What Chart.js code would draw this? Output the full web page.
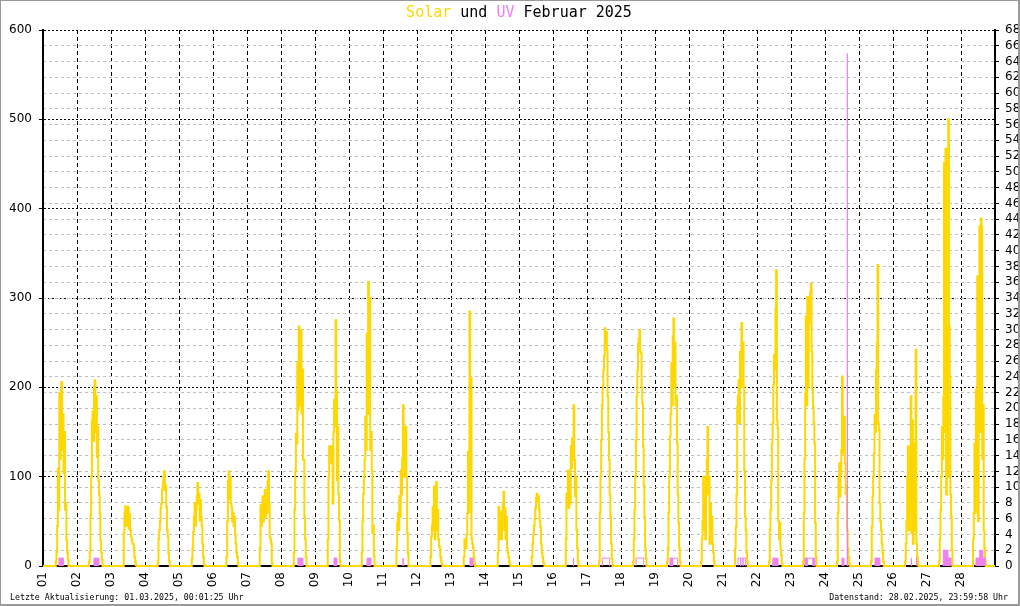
<!DOCTYPE html>
<html>
<head>
<meta charset="utf-8">
<title>Solar und UV Februar 2025</title>
<script src="https://cdn.jsdelivr.net/npm/chart.js@4.4.1/dist/chart.umd.min.js"></script>
<style>
  html, body { margin: 0; padding: 0; background: #fff; }
  canvas { display: block; }
</style>
</head>
<body>
<canvas id="solarChart" width="1020" height="606"></canvas>
<script>
// x-axis labels, one per day
const dayLabels = ['01','02','03','04','05','06','07','08','09','10','11','12','13','14',
                   '15','16','17','18','19','20','21','22','23','24','25','26','27','28'];

// solar radiation (W/m²) per day, half-hourly from 08:00 to 18:00
const solarFirstHour = 8;
const solarStepHours = 0.5;
const solarByDay = [
  [0,0,5,16,45,109,63,193,120,196,206,130,170,104,150,63,70,29,15,7,0],        // 01
  [0,5,16,57,100,163,173,140,200,208,150,190,122,156,96,80,59,29,15,7,0],      // 02
  [0,0,37,60,67,45,62,50,66,42,58,40,33,30,25,25,20,10,5,1,0],                 // 03
  [0,0,5,30,40,50,65,70,85,93,100,106,85,90,66,40,33,14,5,0,0],                // 04
  [0,0,8,20,38,55,70,45,63,78,93,70,81,51,74,55,45,25,10,2,0],                 // 05
  [0,0,0,10,50,95,106,75,100,70,66,50,60,45,55,35,25,15,10,3,0],               // 06
  [0,0,20,68,45,60,78,50,65,85,55,70,60,95,106,70,33,30,25,3,0],               // 07
  [0,0,15,63,107,148,137,227,175,268,180,253,264,171,220,119,119,55,30,10,0],  // 08
  [0,0,30,100,134,120,134,115,134,70,150,186,156,275,195,96,156,81,51,5,0],    // 09
  [0,0,15,50,81,100,119,167,130,260,170,318,200,300,130,150,107,37,45,12,0],   // 10
  [0,0,0,20,48,59,40,78,55,107,80,120,180,122,100,137,156,100,37,14,0],        // 11
  [0,0,0,10,33,45,66,40,89,30,81,94,40,63,30,22,20,10,5,2,0],                  // 12
  [0,0,10,30,25,20,35,59,128,60,285,100,210,30,25,20,10,3,0,0,0],              // 13
  [0,0,15,66,30,40,61,30,55,70,83,40,65,30,55,20,15,10,5,2,0],                 // 14
  [0,0,10,25,35,45,53,65,76,81,72,78,63,50,44,25,15,10,5,2,0],                 // 15
  [0,0,30,81,75,107,65,90,70,134,110,143,120,180,119,78,100,40,20,5,0],        // 16
  [0,5,60,100,141,180,201,219,235,266,250,262,242,190,150,119,80,55,25,8,0],   // 17
  [0,5,30,63,100,141,190,219,249,255,264,240,238,200,182,134,90,55,20,8,0],    // 18
  [0,5,20,60,100,145,170,227,180,257,277,200,250,180,190,137,80,48,20,5,0],    // 19
  [0,5,30,50,100,40,79,30,100,119,156,80,100,25,70,40,55,25,15,5,0],           // 20
  [0,20,44,80,178,190,208,160,240,200,272,230,250,201,107,55,40,15,5,0,0],     // 21
  [0,5,40,63,96,137,160,203,236,220,288,331,163,154,51,30,48,20,12,3,0],       // 22
  [0,5,59,120,193,279,180,301,200,272,300,307,316,240,197,178,160,137,48,10,0],// 23
  [0,5,60,100,115,78,104,130,212,126,156,167,115,81,90,40,20,10,3,0,0],        // 24
  [0,5,44,78,100,126,169,150,219,249,337,160,152,70,50,40,25,15,5,0,0],        // 25
  [0,5,25,51,100,134,40,130,60,190,37,163,25,137,40,122,242,25,10,2,0],        // 26
  [0,5,30,63,100,156,120,190,451,150,467,80,268,100,500,268,212,80,55,18,0],   // 27
  [0,30,59,137,60,197,90,324,50,250,380,150,389,380,120,180,40,20,5,0,0]       // 28
];

// UV index, as stretches of one value (day, from hour, to hour, value, drawn solid)
const uvDay   = [1, 2, 8, 8, 8, 9, 10, 11, 13, 16, 17, 18, 19, 19, 21, 21, 21, 22, 22,
                 23, 23, 23, 24, 24, 25, 26, 26, 27, 27, 27, 27, 28, 28, 28, 28];
const uvFrom  = [11.3, 12.0, 12.0, 13.6, 14.3, 13.4, 12.7, 14.1, 13.4, 14.35, 10.8, 10.6, 10.6, 12.5, 10.6, 12.5, 14.1, 11.2, 13.0,
                 9.9, 11.5, 15.5, 12.0, 15.7, 11.3, 12.9, 16.5, 11.5, 12.9, 13.3, 14.8, 10.6, 12.6, 13.2, 15.5];
const uvTo    = [14.4, 15.5, 13.6, 14.3, 15.5, 15.5, 15.5, 14.25, 15.5, 14.5, 16.0, 16.0, 12.5, 16.0, 12.5, 14.1, 16.0, 12.5, 14.8,
                 11.5, 15.5, 16.9, 13.4, 15.87, 14.8, 13.05, 16.65, 12.9, 13.3, 14.8, 17.0, 12.5, 13.2, 15.5, 17.0];
const uvValue = [1, 1, 1, 1, 1, 1, 1, 1, 1, 1, 1, 1, 1, 1, 1, 1, 1, 1, 1,
                 1, 1, 1, 1, 65, 1, 1, 1, 2, 1, 2, 1, 1, 1, 2, 1];
const uvSolid = [true, true, true, false, true, true, true, true, true, true, false, false, true, false, false, false, false, true, true,
                 true, false, true, true, true, true, true, true, true, true, true, true, true, true, true, true];

const solarColor = '#FFD700';
const uvColor = '#EE82EE';
const clear = 'rgba(0,0,0,0)';
const tickFont = { family: 'DejaVu Sans', size: 12 };

// build the point lists (x = hours since 01.02. 00:00)
const solarPoints = [{ x: 0, y: 0 }];
solarByDay.forEach((values, d) => {
  values.forEach((v, k) => {
    solarPoints.push({ x: d * 24 + solarFirstHour + k * solarStepHours, y: v });
  });
});
solarPoints.push({ x: 672, y: 0 });

function uvStretches(onlySolid) {
  const pts = [{ x: 0, y: 0 }];
  uvDay.forEach((d, i) => {
    if (onlySolid && !uvSolid[i]) return;
    const base = (d - 1) * 24;
    pts.push({ x: base + uvFrom[i], y: 0 });
    pts.push({ x: base + uvFrom[i], y: uvValue[i] });
    pts.push({ x: base + uvTo[i], y: 0 });
  });
  pts.push({ x: 672, y: 0 });
  return pts;
}
const uvLinePoints = uvStretches(false);
const uvFillPoints = uvStretches(true);

// title, footer lines and frame
const decorations = {
  id: 'decorations',
  afterDraw(chart) {
    const { ctx, chartArea } = chart;
    ctx.save();
    ctx.fillStyle = '#999';
    ctx.fillRect(0, 0, 1020, 1);
    ctx.fillRect(0, 0, 1, 606);
    ctx.fillRect(1018, 0, 2, 606);
    ctx.fillRect(0, 604, 1020, 2);

    ctx.font = '15px "DejaVu Sans Mono"';
    ctx.textBaseline = 'middle';
    ctx.textAlign = 'left';
    const parts = [['Solar', solarColor], [' und ', '#000'], ['UV', uvColor], [' Februar 2025', '#000']];
    const total = parts.reduce((w, p) => w + ctx.measureText(p[0]).width, 0);
    let x = (chartArea.left + chartArea.right) / 2 - total / 2;
    parts.forEach(([text, color]) => {
      ctx.fillStyle = color;
      ctx.fillText(text, x, 13);
      x += ctx.measureText(text).width;
    });

    ctx.font = '8.25px "DejaVu Sans Mono"';
    ctx.fillStyle = '#000';
    ctx.fillText('Letzte Aktualisierung: 01.03.2025, 00:01:25 Uhr', 10, 598);
    ctx.textAlign = 'right';
    ctx.fillText('Datenstand: 28.02.2025, 23:59:58 Uhr', 1008, 598);
    ctx.restore();
  }
};

const ctx = document.getElementById('solarChart').getContext('2d');
const solarChart = new Chart(ctx, {
  type: 'line',
  data: {
    datasets: [{
      label: 'UV',
      data: uvLinePoints,
      yAxisID: 'y1',
      stepped: true,
      borderColor: uvColor,
      borderWidth: 1,
      fill: false,
      pointRadius: 0,
      clip: false,
      segment: {
        borderColor: c => (c.p0.parsed.y === 0 && c.p1.parsed.y === 0) ? clear : uvColor
      }
    }, {
      label: 'UV Fläche',
      data: uvFillPoints,
      yAxisID: 'y1',
      stepped: true,
      borderColor: clear,
      borderWidth: 0,
      backgroundColor: uvColor,
      fill: 'origin',
      pointRadius: 0
    }, {
      label: 'Solar',
      data: solarPoints,
      yAxisID: 'y',
      stepped: true,
      borderColor: solarColor,
      borderWidth: 2,
      fill: false,
      pointRadius: 0,
      clip: false
    }]
  },
  options: {
    responsive: false,
    animation: false,
    events: [],
    layout: { padding: { top: 30, left: 0, right: 0, bottom: 0 } },
    plugins: { legend: { display: false }, tooltip: { enabled: false }, title: { display: false } },
    scales: {
      x: {
        type: 'linear',
        min: 0,
        max: 672,
        afterBuildTicks: s => {
          s.ticks = dayLabels.map((_, i) => ({ value: i * 24 })).concat([{ value: 672 }]);
        },
        ticks: {
          autoSkip: false,
          maxRotation: 90,
          minRotation: 90,
          padding: 6,
          color: '#000',
          font: tickFont,
          callback: v => dayLabels[v / 24] ?? ''
        },
        grid: {
          color: c => (c.tick && (c.tick.value === 0 || c.tick.value === 672)) ? clear : '#000',
          lineWidth: 1,
          drawTicks: false,
          tickLength: 0,
          borderDash: [4, 3]
        },
        border: { display: true, color: '#000', width: 2, dash: [4, 3] },
        afterFit: s => { s.height = 40; }
      },
      y: {
        position: 'left',
        min: 0,
        max: 600,
        ticks: { stepSize: 100, padding: 7, color: '#000', font: tickFont, autoSkip: false },
        grid: {
          color: c => (c.tick && c.tick.value === 0) ? clear : '#000',
          lineWidth: 1,
          tickColor: '#000',
          tickLength: 4,
          tickBorderDash: [],
          borderDash: [2, 2]
        },
        border: { display: true, color: '#000', width: 2, dash: [2, 2] },
        afterFit: s => { s.width = 43; }
      },
      y1: {
        position: 'right',
        min: 0,
        max: 68,
        ticks: { stepSize: 2, padding: 6, color: '#000', font: tickFont, autoSkip: false },
        grid: {
          color: c => (c.tick && (c.tick.value === 0 || c.tick.value === 68)) ? clear : '#c0c0c0',
          lineWidth: 1,
          tickColor: '#000',
          tickLength: 4,
          tickBorderDash: [],
          borderDash: [3, 3]
        },
        border: { display: true, color: '#000', width: 2, dash: [3, 3] },
        afterFit: s => { s.width = 25; }
      }
    }
  },
  plugins: [decorations]
});
</script>
</body>
</html>
